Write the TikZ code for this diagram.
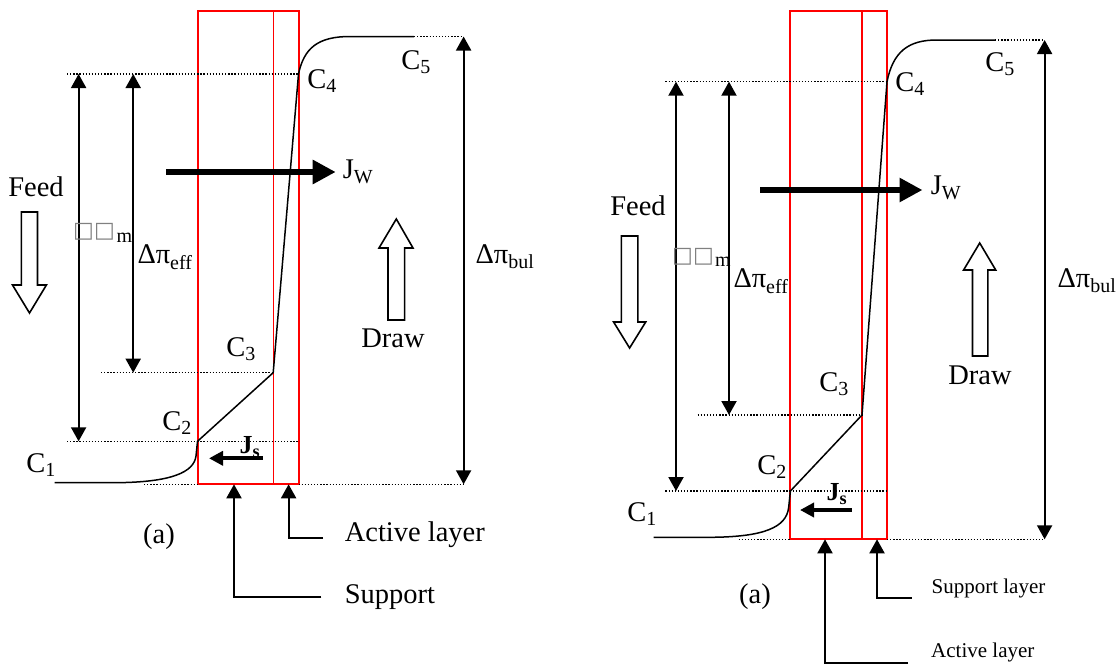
\documentclass[tikz,border=0pt]{standalone}
\usepackage{fontspec}
\setmainfont{Liberation Serif}
\newfontfamily\tofu{DejaVu Sans}
\usetikzlibrary{arrows.meta}

\begin{document}
\begin{tikzpicture}[x=1pt, y=-1pt,
  font=\fontsize{28.5}{30}\selectfont,
  every node/.style={inner sep=0pt},
  memb/.style={draw=red, line width=2pt},
  layer/.style={red, line width=1.4pt},
  level/.style={line width=1.3pt, dash pattern=on 1.3pt off 1.8pt},
  profile/.style={line width=1.5pt},
  delta/.style={line width=2pt, {Triangle[length=14pt,width=15pt]}-{Triangle[length=14pt,width=15pt]}},
  flux/.style={line width=6.5pt, -{Triangle[length=23pt,width=23pt]}},
  sflux/.style={line width=4pt, -{Triangle[length=14pt,width=14pt]}},
  pointer/.style={line width=2pt, -{Triangle[length=14pt,width=15pt]}},
  hollow/.style={draw, line width=1.6pt, fill=white},
  small/.style={font=\fontsize{21}{23}\selectfont},
  missing/.style={text=gray, font=\tofu\fontsize{22}{22}\selectfont}
]
\useasboundingbox (0,0) rectangle (1118,664);
\clip (0,0) rectangle (1118,664);

% ---------- left panel ----------
\coordinate (L-c1) at (54.6,482.7);
\coordinate (L-c2) at (197.5,441.3);
\coordinate (L-c3) at (273.2,372.7);
\coordinate (L-c4) at (298.5,74);
\coordinate (L-c5) at (414,36.5);

% membrane
\draw[memb] (197.5,10.7) rectangle (298.5,484.3);
\draw[layer] (273.2,10.7) -- (273.2,484.3);

% concentration levels
\draw[level] (67,74) -- (L-c4);
\draw[level] (L-c5) -- (462.5,36.5);
\draw[level] (101,372.7) -- (L-c3);
\draw[level] (67,441.3) -- (298.5,441.3);
\draw[level] (144,484.3) -- (197.5,484.3);
\draw[level] (298.5,484.3) -- (463,484.3);

% profile
\draw[profile] (L-c1) -- (114,482.7) .. controls (172,482.5) and (194,472) .. (196,456)
  -- (L-c2) -- (L-c3) -- (L-c4) .. controls (304,48) and (318,36.5) .. (350,36.5) -- (L-c5);

% driving forces
\coordinate (L-m-top) at (78.6,74);
\coordinate (L-m-bot) at (78.6,441.3);
\coordinate (L-e-top) at (133.2,74);
\coordinate (L-e-bot) at (133.2,372.7);
\coordinate (L-b-top) at (463.6,36.5);
\coordinate (L-b-bot) at (463.6,484.3);
\draw[delta] (L-m-bot) -- (L-m-top);
\draw[delta] (L-e-bot) -- (L-e-top);
\draw[delta] (L-b-top) -- (L-b-bot);

% fluxes
\coordinate (L-jw-from) at (166,172);
\coordinate (L-jw-to) at (335.7,172);
\draw[flux] (L-jw-from) -- (L-jw-to);
\coordinate (L-js-from) at (262.5,458.3);
\coordinate (L-js-to) at (209,458.3);
\draw[sflux] (L-js-from) -- (L-js-to);

% feed / draw
\draw[hollow] (21.4,212) -- (37.5,212) -- (37.5,285) -- (46.4,285) -- (29.5,313)
  -- (12.5,285) -- (21.4,285) -- cycle;
\draw[hollow] (388,320) -- (404.6,320) -- (404.6,248) -- (413,248) -- (396.3,219)
  -- (379,248) -- (388,248) -- cycle;

% pointers
\coordinate (L-sup-end) at (321.4,596.7);
\coordinate (L-sup-tip) at (234,484.3);
\coordinate (L-act-end) at (323,538.3);
\coordinate (L-act-tip) at (288.6,484.3);
\draw[pointer] (L-sup-end) -| (L-sup-tip);
\draw[pointer] (L-act-end) -| (L-act-tip);

% labels
\node (L-lab-c1) at (41,465) {C\textsubscript{1}};
\node (L-lab-c2) at (177,423) {C\textsubscript{2}};
\node (L-lab-c3) at (241,349) {C\textsubscript{3}};
\node (L-lab-c4) at (322,81) {C\textsubscript{4}};
\node (L-lab-c5) at (416,62) {C\textsubscript{5}};
\node (L-lab-jw) at (358,172) {J\textsubscript{W}};
\node[font=\bfseries\fontsize{26}{28}\selectfont] (L-lab-js) at (250,447) {J\textsubscript{s}};
\node (L-feed) at (36,187) {Feed};
\node (L-draw) at (393,338) {Draw};
\node (L-eff) at (165,257) {Δπ\textsubscript{eff}};
\node (L-bul) at (505,257) {Δπ\textsubscript{bul}};
\node[missing] (L-tofu) at (94,231.5) {□□};
\node[font=\fontsize{20}{20}\selectfont] (L-tofu-m) at (124.5,238) {m};
\node (L-a) at (159,537) {(a)};
\node[anchor=west] (L-act) at (344.6,535) {Active layer};
\node[anchor=west] (L-sup) at (344.6,597) {Support};

% ---------- right panel ----------
\coordinate (R-c1) at (653.6,537.3);
\coordinate (R-c2) at (790.4,491);
\coordinate (R-c3) at (862,415);
\coordinate (R-c4) at (887,81.7);
\coordinate (R-c5) at (995,40);

% membrane
\draw[memb] (790.4,10.7) rectangle (887,539.3);
\draw[layer] (862,10.7) -- (862,539.3);

% concentration levels
\draw[level] (665.4,81.7) -- (R-c4);
\draw[level] (R-c5) -- (1044,40);
\draw[level] (697.5,415) -- (R-c3);
\draw[level] (665.4,491) -- (887,491);
\draw[level] (738.6,539.3) -- (790.4,539.3);
\draw[level] (887,539.3) -- (1044,539.3);

% profile
\draw[profile] (R-c1) -- (710,537.3) .. controls (765,537) and (786,527) .. (788.6,508)
  -- (R-c2) -- (R-c3) -- (R-c4) .. controls (893,52) and (908,40) .. (936.7,40) -- (R-c5);

% driving forces
\coordinate (R-m-top) at (676,81.7);
\coordinate (R-m-bot) at (676,491);
\coordinate (R-e-top) at (729,81.7);
\coordinate (R-e-bot) at (729,415);
\coordinate (R-b-top) at (1044.6,40);
\coordinate (R-b-bot) at (1044.6,539.3);
\draw[delta] (R-m-bot) -- (R-m-top);
\draw[delta] (R-e-bot) -- (R-e-top);
\draw[delta] (R-b-top) -- (R-b-bot);

% fluxes
\coordinate (R-jw-from) at (760,190);
\coordinate (R-jw-to) at (922.5,190);
\draw[flux] (R-jw-from) -- (R-jw-to);
\coordinate (R-js-from) at (851.7,510);
\coordinate (R-js-to) at (800,510);
\draw[sflux] (R-js-from) -- (R-js-to);

% feed / draw
\draw[hollow] (621.4,236) -- (637.9,236) -- (637.9,322) -- (645.7,322) -- (629.6,348)
  -- (613.6,322) -- (621.4,322) -- cycle;
\draw[hollow] (972.5,356) -- (987.9,356) -- (987.9,270) -- (995.7,270) -- (979.7,243)
  -- (963.6,270) -- (972.5,270) -- cycle;

% pointers
\coordinate (R-sup-end) at (911.8,598.3);
\coordinate (R-sup-tip) at (877,539.3);
\coordinate (R-act-end) at (908,662.5);
\coordinate (R-act-tip) at (825,539.3);
\draw[pointer] (R-sup-end) -| (R-sup-tip);
\draw[pointer] (R-act-end) -| (R-act-tip);

% labels
\node (R-lab-c1) at (642,514) {C\textsubscript{1}};
\node (R-lab-c2) at (772,467) {C\textsubscript{2}};
\node (R-lab-c3) at (834,384) {C\textsubscript{3}};
\node (R-lab-c4) at (910,84) {C\textsubscript{4}};
\node (R-lab-c5) at (1000,64) {C\textsubscript{5}};
\node (R-lab-jw) at (946,188) {J\textsubscript{W}};
\node[font=\bfseries\fontsize{26}{28}\selectfont] (R-lab-js) at (837,494) {J\textsubscript{s}};
\node (R-feed) at (638,206) {Feed};
\node (R-draw) at (980,375) {Draw};
\node (R-eff) at (761,281) {Δπ\textsubscript{eff}};
\node (R-bul) at (1087,281) {Δπ\textsubscript{bul}};
\node[missing] (R-tofu) at (693,256.5) {□□};
\node[font=\fontsize{20}{20}\selectfont] (R-tofu-m) at (723,262) {m};
\node (R-a) at (755,597) {(a)};
\node[small, anchor=west] (R-sup) at (931.4,588) {Support layer};
\node[small, anchor=base west] (R-act) at (931,657) {Active layer};
\end{tikzpicture}
\end{document}
